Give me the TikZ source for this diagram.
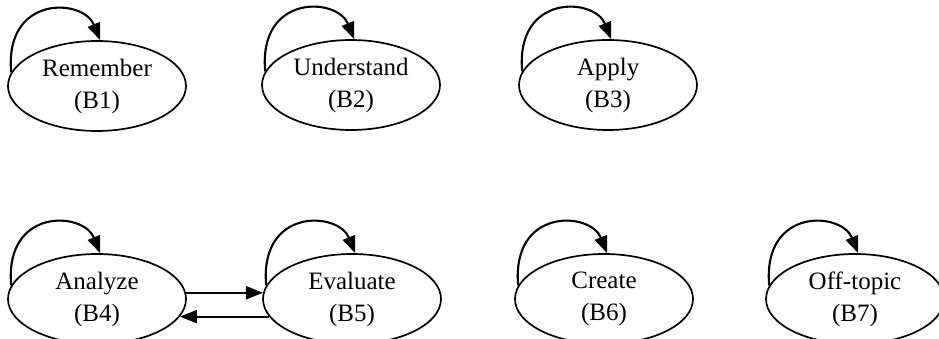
\documentclass[tikz,border=0pt]{standalone}
\usepackage{fontspec}
\setmainfont{Liberation Serif}
\usepackage{tikz}
\usetikzlibrary{arrows.meta,shapes.geometric,positioning}

\begin{document}
\begin{tikzpicture}[x=1pt,y=1pt]
	\useasboundingbox (0,0) rectangle (939,339);
	\begin{scope}[every node/.style={ellipse,draw,line width=1.7pt,minimum width=178pt,minimum height=90pt,inner sep=0pt,align=center,font=\fontsize{25}{32}\selectfont}]
		\node (B1) at (97,253) {Remember\\(B1)};
		\node (B2) at (351,254) {Understand\\(B2)};
		\node (B3) at (608,254) {Apply\\(B3)};
		\node (B4) at (97,40) {Analyze\\(B4)};
		\node (B5) at (352,40) {Evaluate\\(B5)};
		\node (B6) at (604,40) {Create\\(B6)};
		\node (B7) at (855,40) {Off-topic\\(B7)};
	\end{scope}

	\begin{scope}[>={Triangle[length=17pt,width=13pt]},line width=2.1pt]
		\foreach \n in {B1,B2,B3,B4,B5,B6,B7}
			\draw[->] (\n.171) .. controls +(-7,78) and +(-17,42) .. (\n.86);
		\draw[->] (B4.4) -- (B5.176);
		\draw[->] (B5.192) -- (B4.-12);
	\end{scope}
\end{tikzpicture}
\end{document}
